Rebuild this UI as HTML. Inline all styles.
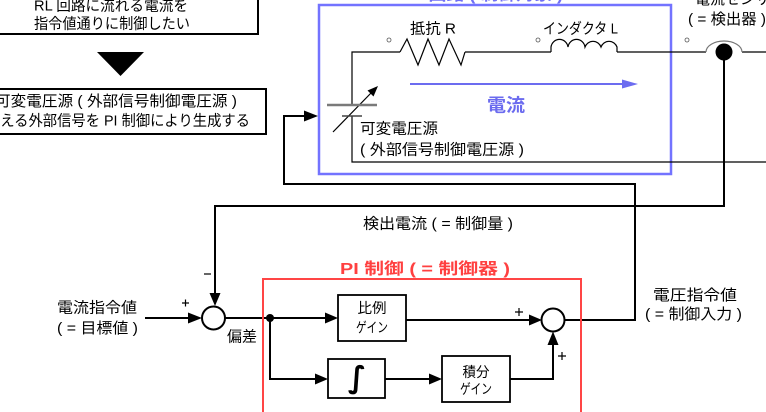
<!DOCTYPE html>
<html><head><meta charset="utf-8"><style>
html,body{margin:0;padding:0;background:#fff;}
svg{display:block;}
.t{font-family:"Liberation Sans","Noto Sans CJK JP",sans-serif;font-size:15px;fill:#000;}
.s{font-family:"Liberation Sans","Noto Sans CJK JP",sans-serif;font-size:14px;fill:#000;}
.b{font-family:"Liberation Sans","Noto Sans CJK JP",sans-serif;font-weight:bold;}
</style></head><body>
<svg width="766" height="412" viewBox="0 0 766 412" xmlns="http://www.w3.org/2000/svg">
<rect width="766" height="412" fill="#fff"/>

<!-- top-left boxes -->
<rect x="-10" y="-10" width="268" height="44" fill="#fff" stroke="#000" stroke-width="2"/>
<text class="t" x="34" y="10.5" textLength="154" lengthAdjust="spacingAndGlyphs">RL 回路に流れる電流を</text>
<text class="t" x="34" y="28.5" textLength="156" lengthAdjust="spacingAndGlyphs">指令値通りに制御したい</text>
<polygon points="97,52 144,52 120.5,76" fill="#000"/>
<rect x="-10" y="89" width="276" height="45" fill="#fff" stroke="#000" stroke-width="2"/>
<text class="t" x="-5" y="106" textLength="242" lengthAdjust="spacingAndGlyphs">可変電圧源 ( 外部信号制御電圧源 )</text>
<text class="t" x="-14" y="125.5" textLength="264" lengthAdjust="spacingAndGlyphs">与える外部信号を PI 制御により生成する</text>

<!-- blue box -->
<text class="b" x="400" y="0" font-size="16" fill="#6f6ff5" textLength="163" lengthAdjust="spacingAndGlyphs">RL 回路 ( 制御対象 )</text>
<rect x="319" y="5" width="352" height="169" fill="none" stroke="#7373ff" stroke-width="2.5"/>

<!-- circuit -->
<g fill="none" stroke="#000" stroke-width="1.2">
<path d="M352,105 V52 H400"/>
<polyline points="400,52 407,39 418,65 428,39 439,65 449,39 461,65 465,52"/>
<path d="M465,52 H551"/>
<path d="M551,52 V47 A8.6,9 0 0 1 568,47 A8.6,9 0 0 1 585,47 A8.6,9 0 0 1 601,47 A8.6,9 0 0 1 617,47 V52"/>
<path d="M617,52 H706"/>
<path d="M742,52 H766"/>
<path d="M352,116 V162 H766"/>
<path d="M333,132 L372,92"/>
</g>
<path d="M706,52 A18,11 0 0 1 742,52" fill="none" stroke="#777" stroke-width="1.2"/>
<path d="M327,105 H377" stroke="#7a7a7a" stroke-width="2.5"/>
<path d="M342,116 H362" stroke="#444" stroke-width="1.5"/>
<polygon points="378,86 373.5,96.5 367.5,90.5" fill="#000"/>
<g fill="#fff" stroke="#555" stroke-width="0.8">
<circle cx="389" cy="40" r="2"/>
<circle cx="538" cy="40" r="2"/>
<circle cx="687" cy="40" r="2"/>
</g>
<text class="t" x="410" y="33.5" textLength="46" lengthAdjust="spacingAndGlyphs">抵抗 R</text>
<text class="t" x="543" y="33.5" textLength="75" lengthAdjust="spacingAndGlyphs">インダクタ L</text>
<text class="t" x="695" y="4">電流センサ</text>
<text class="t" x="688" y="24" textLength="78" lengthAdjust="spacingAndGlyphs">( = 検出器 )</text>
<path d="M410,84 H625" stroke="#6c6cf0" stroke-width="2"/>
<polygon points="622,79.5 638,84 622,88.5" fill="#6c6cf0"/>
<text class="b" x="487" y="111.5" font-size="18" fill="#6b6bef" textLength="38" lengthAdjust="spacingAndGlyphs">電流</text>
<text class="t" x="360" y="133.5" textLength="78" lengthAdjust="spacingAndGlyphs">可変電圧源</text>
<text class="t" x="360" y="154.5" textLength="164" lengthAdjust="spacingAndGlyphs">( 外部信号制御電圧源 )</text>
<circle cx="724" cy="52" r="8.5" fill="#000"/>

<!-- feedback & command lines -->
<g fill="none" stroke="#000" stroke-width="2">
<path d="M724,52 V206 H215 V295"/>
<path d="M565,320 H635 V184 H284 V116 H306"/>
<path d="M145,318 H190"/>
<path d="M225,318 H270"/>
<path d="M270,318 H326"/>
<path d="M270,318 V379 H316"/>
<path d="M385,379 H430"/>
<path d="M406,320 H530"/>
<path d="M510,379 H553 V344"/>
</g>
<polygon points="209.5,293 220.5,293 215,306" fill="#000"/>
<polygon points="304,110.5 318,116 304,121.5" fill="#000"/>
<polygon points="188,312.5 202,318 188,323.5" fill="#000"/>
<polygon points="325,312.5 338,318 325,323.5" fill="#000"/>
<polygon points="315,373.5 328,379 315,384.5" fill="#000"/>
<polygon points="429,373.5 442,379 429,384.5" fill="#000"/>
<polygon points="529,314.5 542,320 529,325.5" fill="#000"/>
<polygon points="547.5,345 553,331.5 558.5,345" fill="#000"/>
<circle cx="270" cy="318" r="4" fill="#000"/>

<text class="t" x="363" y="228.5" textLength="150" lengthAdjust="spacingAndGlyphs">検出電流 ( = 制御量 )</text>

<!-- red PI box -->
<rect x="263" y="279" width="318" height="150" fill="none" stroke="#ff4545" stroke-width="2"/>
<text class="b" x="340" y="274" font-size="16" fill="#ff4040" textLength="170" lengthAdjust="spacingAndGlyphs">PI 制御 ( = 制御器 )</text>

<circle cx="213.5" cy="318" r="11.5" fill="#fff" stroke="#000" stroke-width="2"/>
<circle cx="553" cy="320" r="11.5" fill="#fff" stroke="#000" stroke-width="2"/>

<rect x="338" y="295" width="68" height="46" fill="#fff" stroke="#000" stroke-width="1.8"/>
<rect x="328" y="359" width="57" height="39" fill="#fff" stroke="#000" stroke-width="1.8"/>
<rect x="442" y="356" width="68" height="46" fill="#fff" stroke="#000" stroke-width="1.8"/>
<text class="s" x="372" y="313" text-anchor="middle" textLength="29" lengthAdjust="spacingAndGlyphs">比例</text>
<text class="s" x="372" y="332.5" text-anchor="middle" textLength="32" lengthAdjust="spacingAndGlyphs">ゲイン</text>
<text class="s" x="476" y="377" text-anchor="middle" textLength="27" lengthAdjust="spacingAndGlyphs">積分</text>
<text class="s" x="476" y="394" text-anchor="middle" textLength="32" lengthAdjust="spacingAndGlyphs">ゲイン</text>
<text x="357" y="387.5" text-anchor="middle" font-family="DejaVu Sans, sans-serif" font-size="30" font-weight="bold" font-style="italic" fill="#000">∫</text>

<!-- signs -->
<g stroke="#000" stroke-width="1.2">
<path d="M204,274 H211"/>
<path d="M182,303 H189 M185.5,299.5 V306.5"/>
<path d="M515,312 H523 M519,308 V316"/>
<path d="M558,356 H566 M562,352 V360"/>
</g>

<text class="t" x="57" y="312.5" textLength="80" lengthAdjust="spacingAndGlyphs">電流指令値</text>
<text class="t" x="57" y="333" textLength="81" lengthAdjust="spacingAndGlyphs">( = 目標値 )</text>
<text class="t" x="227" y="341.5" textLength="30" lengthAdjust="spacingAndGlyphs">偏差</text>
<text class="t" x="653" y="300" textLength="84" lengthAdjust="spacingAndGlyphs">電圧指令値</text>
<text class="t" x="645" y="319" textLength="97" lengthAdjust="spacingAndGlyphs">( = 制御入力 )</text>
</svg>
</body></html>
